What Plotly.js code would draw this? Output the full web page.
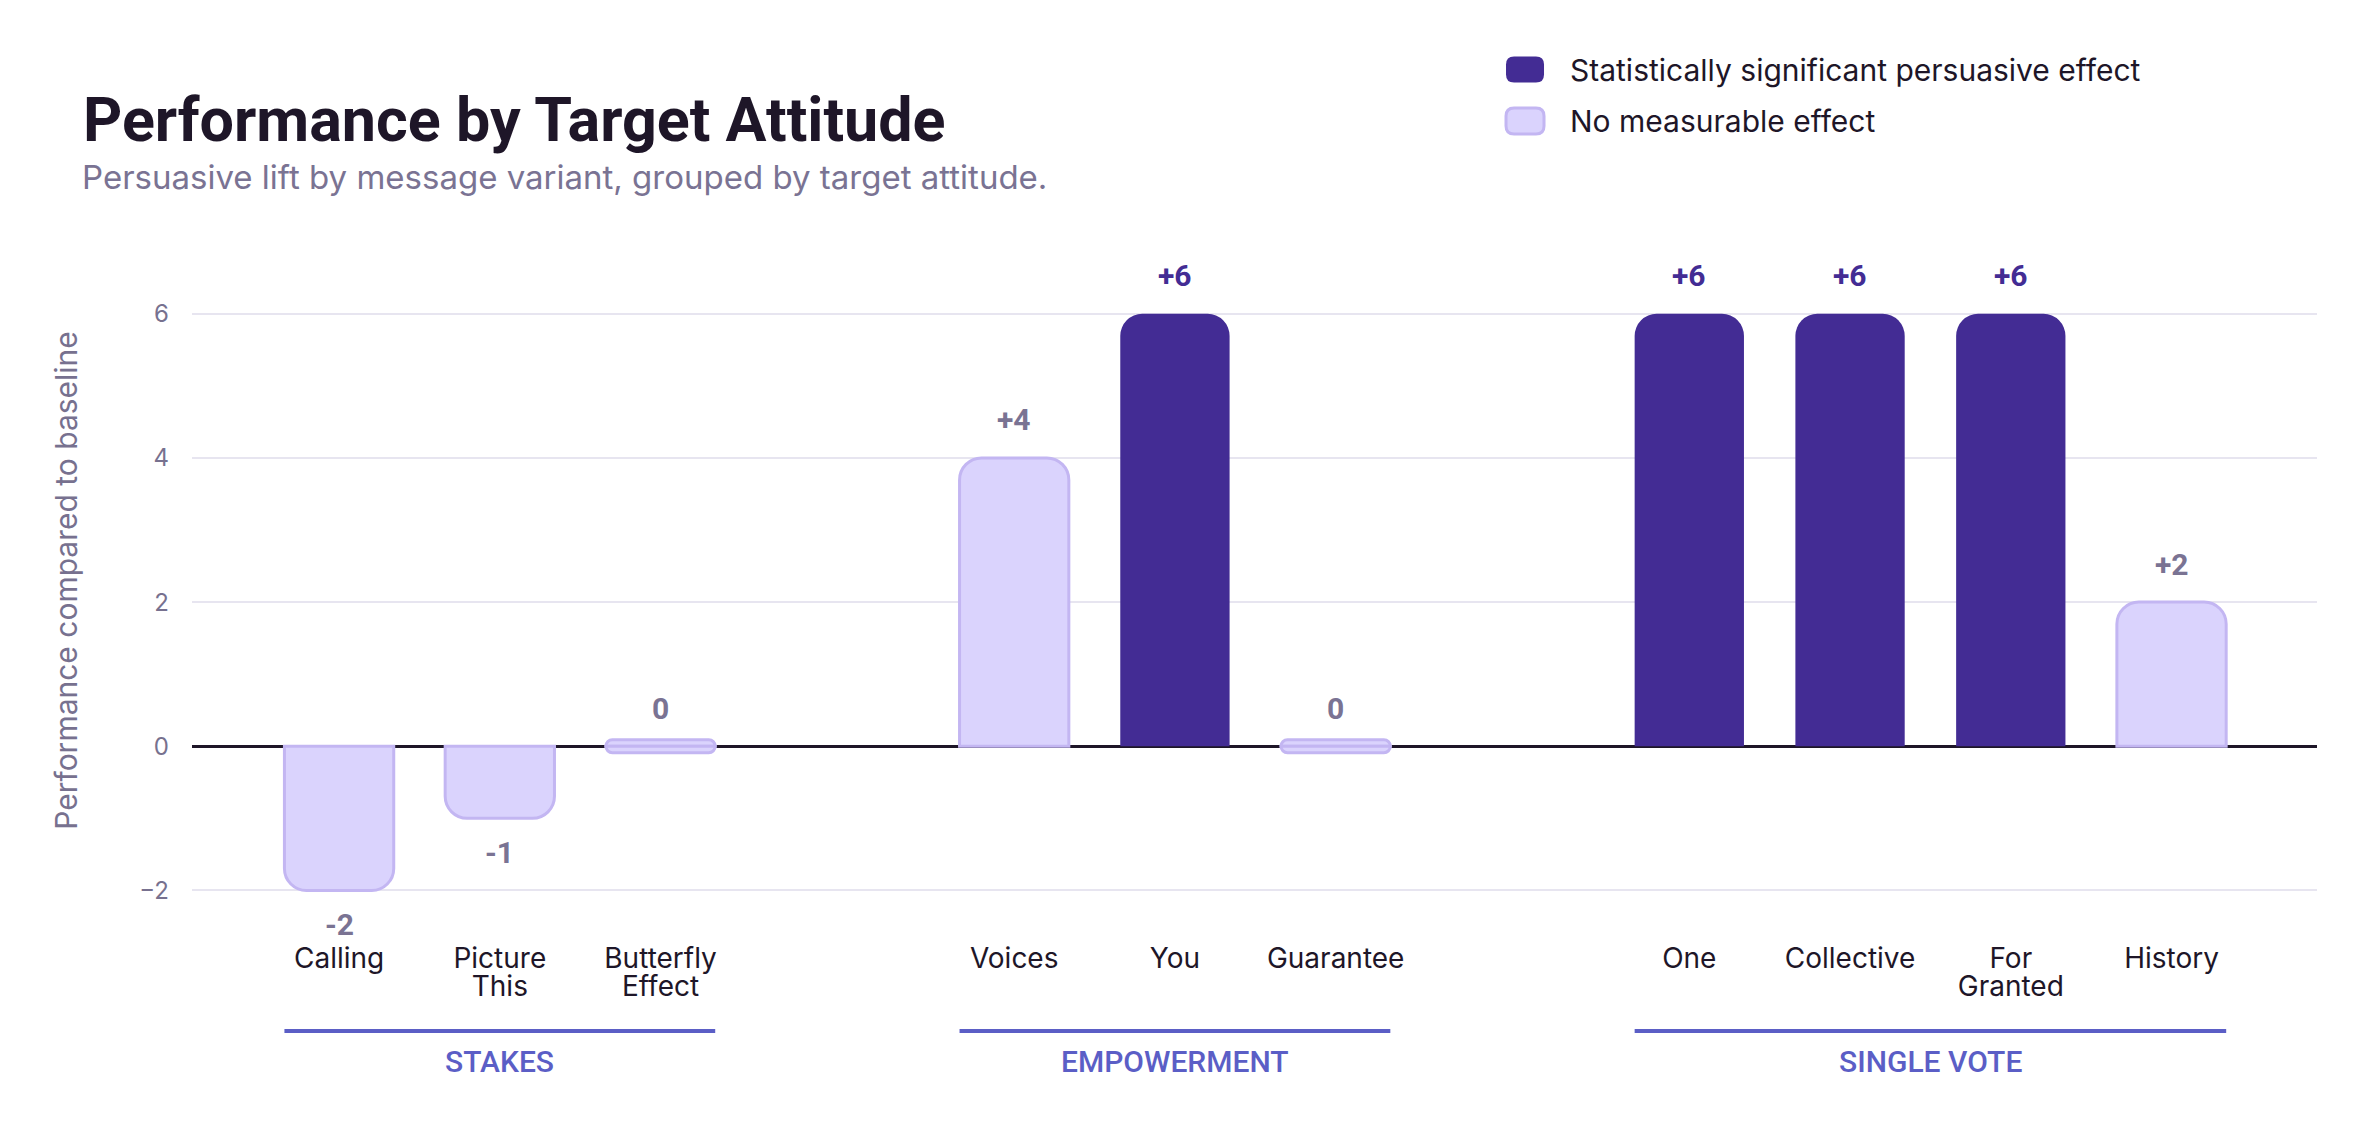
<!DOCTYPE html>
<html>
<head>
<meta charset="utf-8">
<script src="https://cdn.plot.ly/plotly-3.0.1.min.js"></script>
<style>
  html, body { margin: 0; padding: 0; background: #ffffff; }
  #chart { width: 2373px; height: 1134px; }
</style>
</head>
<body>
<div id="chart"></div>
<script>
// ---- data ----
const groupNames = ['STAKES', 'EMPOWERMENT', 'SINGLE VOTE'];
const variants = ['Calling', 'Picture This', 'Butterfly Effect',
                  'Voices', 'You', 'Guarantee',
                  'One', 'Collective', 'For Granted', 'History'];
const variantGroup = [0, 0, 0, 1, 1, 1, 2, 2, 2, 2];
const lift = [-2, -1, 0, 4, 6, 0, 6, 6, 6, 2];
const significant = [false, false, false, false, true, false, true, true, true, false];
const legendLabels = ['Statistically significant persuasive effect', 'No measurable effect'];
const yTicks = [-2, 0, 2, 4, 6];

// ---- styling constants ----
const DARK = '#432C94';
const LIGHT_FILL = '#DAD3FD';
const LIGHT_LINE = '#C3B6F2';
const INK = '#1E1628';
const MUTED = '#77718F';
const GROUP_COLOR = '#5B5EC6';
const BODY_FONT = 'Inter, "Open Sans", sans-serif';
const HEAD_FONT = 'Roboto, "Liberation Sans", sans-serif';

const GROUP_GAP = 1.2;   // extra slot space between attitude groups
const BAR_W = 0.68;
const PILL = 0.09;       // half-height of the pill used for zero values

// x position of each variant: one slot per bar plus a gap between groups
const xPos = variants.map((_, i) => i + variantGroup[i] * GROUP_GAP);
const tickText = variants.map(v => v.replace(' ', '<br>'));

function idx(test) {
  return lift.map((v, i) => i).filter(i => test(i));
}
const sigIdx = idx(i => significant[i] && lift[i] !== 0);
const nsIdx = idx(i => !significant[i] && lift[i] !== 0);
const zeroIdx = idx(i => lift[i] === 0);

const traces = [
  {
    type: 'bar', name: legendLabels[0],
    x: sigIdx.map(i => xPos[i]), y: sigIdx.map(i => lift[i]),
    width: BAR_W,
    marker: { color: DARK, line: { color: DARK, width: 0 }, cornerradius: 22 },
    showlegend: false, hoverinfo: 'skip'
  },
  {
    type: 'bar', name: legendLabels[1],
    x: nsIdx.map(i => xPos[i]), y: nsIdx.map(i => lift[i]),
    width: BAR_W,
    marker: { color: LIGHT_FILL, line: { color: LIGHT_LINE, width: 3 }, cornerradius: 22 },
    showlegend: false, hoverinfo: 'skip'
  },
  // zero values: a thin pill straddling the baseline (upper and lower half)
  {
    type: 'bar', name: legendLabels[1],
    x: zeroIdx.map(i => xPos[i]), y: zeroIdx.map(i => lift[i] + PILL),
    width: BAR_W,
    marker: { color: LIGHT_FILL, line: { color: LIGHT_LINE, width: 3 }, cornerradius: 8 },
    showlegend: false, hoverinfo: 'skip'
  },
  {
    type: 'bar', name: legendLabels[1],
    x: zeroIdx.map(i => xPos[i]), y: zeroIdx.map(i => lift[i] - PILL),
    width: BAR_W,
    marker: { color: LIGHT_FILL, line: { color: LIGHT_LINE, width: 3 }, cornerradius: 8 },
    showlegend: false, hoverinfo: 'skip'
  }
];

// ---- value labels ----
const annotations = lift.map((v, i) => ({
  x: xPos[i], y: v, xref: 'x', yref: 'y',
  text: v > 0 ? '+' + v : String(v),
  showarrow: false, yanchor: 'middle', xanchor: 'center',
  yshift: v >= 0 ? 38 : -34,
  font: { family: HEAD_FONT, size: 30, weight: 700, color: significant[i] ? DARK : '#7A7393' }
}));

// ---- group brackets and labels ----
const shapes = [];
const GROUP_LINE_Y = -0.1795;
const GROUP_LABEL_Y = -0.2248;
groupNames.forEach((g, gi) => {
  const members = variantGroup.map((vg, i) => vg === gi ? xPos[i] : null).filter(v => v !== null);
  const x0 = Math.min(...members) - BAR_W / 2;
  const x1 = Math.max(...members) + BAR_W / 2;
  shapes.push({
    type: 'line', xref: 'x', yref: 'paper',
    x0: x0, x1: x1, y0: GROUP_LINE_Y, y1: GROUP_LINE_Y,
    line: { color: GROUP_COLOR, width: 4 }
  });
  annotations.push({
    x: (x0 + x1) / 2, y: GROUP_LABEL_Y, xref: 'x', yref: 'paper',
    text: g, showarrow: false, xanchor: 'center', yanchor: 'middle',
    font: { family: HEAD_FONT, size: 30, weight: 500, color: GROUP_COLOR }
  });
});

// ---- legend (rounded swatches + labels) ----
const swatchPath = 'M -11,-13 L 11,-13 Q 19,-13 19,-5 L 19,5 Q 19,13 11,13 L -11,13 Q -19,13 -19,5 L -19,-5 Q -19,-13 -11,-13 Z';
const legendY = [1.2706, 1.1931];
const legendStyle = [
  { fill: DARK, line: DARK, width: 0 },
  { fill: LIGHT_FILL, line: LIGHT_LINE, width: 3 }
];
legendLabels.forEach((lab, k) => {
  shapes.push({
    type: 'path', xref: 'paper', yref: 'paper',
    xsizemode: 'pixel', ysizemode: 'pixel',
    xanchor: 0.6273, yanchor: legendY[k],
    path: swatchPath,
    fillcolor: legendStyle[k].fill,
    line: { color: legendStyle[k].line, width: legendStyle[k].width }
  });
  annotations.push({
    x: 0.6475, y: legendY[k], xref: 'paper', yref: 'paper',
    text: lab, showarrow: false, xanchor: 'left', yanchor: 'middle',
    font: { family: BODY_FONT, size: 30, color: INK }
  });
});

// ---- subtitle ----
annotations.push({
  x: -0.0527, y: 1.1086, xref: 'paper', yref: 'paper',
  text: 'Persuasive lift by message variant, grouped by target attitude.',
  showarrow: false, xanchor: 'left', yanchor: 'middle',
  font: { family: BODY_FONT, size: 33, color: '#7A7393' }
});

const layout = {
  width: 2373, height: 1134,
  paper_bgcolor: '#ffffff', plot_bgcolor: '#ffffff',
  margin: { l: 192, r: 56, t: 249, b: 222 },
  barmode: 'relative',
  showlegend: false,
  title: {
    text: 'Performance by Target Attitude',
    xref: 'container', yref: 'container',
    x: 83 / 2373, xanchor: 'left',
    y: 1 - 120 / 1134, yanchor: 'middle',
    font: { family: HEAD_FONT, size: 61, weight: 700, color: INK }
  },
  xaxis: {
    range: [-0.915, xPos[xPos.length - 1] + 0.905],
    tickvals: xPos, ticktext: tickText,
    showgrid: false, zeroline: false, showline: false,
    ticks: '', ticklabelstandoff: 27,
    tickfont: { family: BODY_FONT, size: 28, color: INK },
    automargin: false, fixedrange: true
  },
  yaxis: {
    range: [-2.3, 6.9],
    tickvals: yTicks,
    showgrid: true, gridcolor: '#E7E5F0', gridwidth: 2,
    zeroline: true, zerolinecolor: INK, zerolinewidth: 3,
    showline: false, ticks: '', ticklabelstandoff: 22,
    tickfont: { family: BODY_FONT, size: 24, color: MUTED },
    title: {
      text: 'Performance compared to baseline',
      font: { family: BODY_FONT, size: 30, color: MUTED },
      standoff: 52
    },
    automargin: false, fixedrange: true
  },
  shapes: shapes,
  annotations: annotations
};

Plotly.newPlot('chart', traces, layout, { staticPlot: true, displayModeBar: false })
  .then(gd => {
    // tighten the spacing between the two lines of wrapped category labels
    gd.querySelectorAll('.xtick text tspan.line').forEach(t => {
      if (t.getAttribute('dy') === '1.3em') t.setAttribute('dy', '1.0em');
    });
  });
</script>
</body>
</html>
